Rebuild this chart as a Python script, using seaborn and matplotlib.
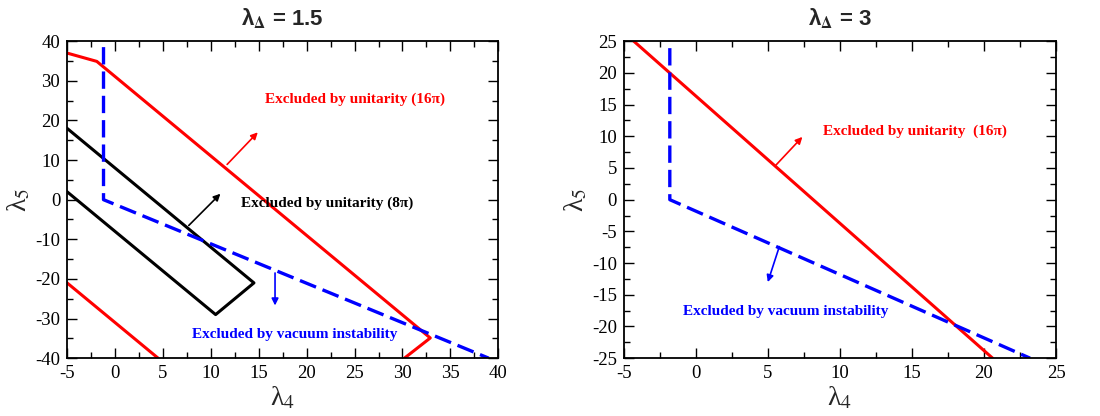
import matplotlib
matplotlib.use("Agg")
import matplotlib.pyplot as plt
import seaborn as sns
import pandas as pd
from matplotlib.ticker import MultipleLocator

# ---------------- data ----------------
# left panel (lambda_Delta = 1.5)
L_red_upper_x = [-5, -1.9, 32.9, 30.2]
L_red_upper_y = [37, 34.9, -34.9, -40]
L_red_lower_x = [-5, 4.5]
L_red_lower_y = [-21, -40]
L_black_x = [-5, 14.5, 10.5, -5]
L_black_y = [18, -21, -29, 2]
L_blue_x = [-1.2, -1.2, 39]
L_blue_y = [38.5, 0, -40]

# right panel (lambda_Delta = 3)
R_red_x = [-4.3, 20.6]
R_red_y = [25, -25]
R_blue_x = [-1.8, -1.8, 23.2]
R_blue_y = [23.9, 0, -25]

titles = ["λ$_\\mathbf{\\Delta}$ = 1.5", "λ$_\\mathbf{\\Delta}$ = 3"]
xlabel = "λ$_4$"
ylabel = "λ$_5$"

# ---------------- style ----------------
sns.set_theme(style="ticks")
plt.rcParams["font.family"] = ["Liberation Serif", "DejaVu Serif"]
plt.rcParams["mathtext.fontset"] = "stix"
plt.rcParams["axes.unicode_minus"] = False

fig = plt.figure(figsize=(11, 4.16), dpi=100)
axL = fig.add_axes([0.061, 0.139, 0.392, 0.762])
axR = fig.add_axes([0.567, 0.139, 0.393, 0.762])

RED = "#ff0000"
BLUE = "#0000ff"
LW = 2.2


def line(ax, xs, ys, color, dashed=False, lw=LW):
    df = pd.DataFrame({"x": xs, "y": ys})
    kw = {}
    if dashed:
        kw["linestyle"] = (0, (5.2, 2.1))
    sns.lineplot(data=df, x="x", y="y", sort=False, estimator=None, ax=ax,
                 color=color, linewidth=lw, **kw)


def arrow(ax, x0, y0, x1, y1, color):
    ax.annotate("", xy=(x1, y1), xytext=(x0, y0),
                arrowprops=dict(arrowstyle="-|>", color=color, lw=1.2,
                                mutation_scale=10, shrinkA=0, shrinkB=0))


def style_axes(ax, xlim, ylim, xmaj, xmin, ymaj, ymin, title):
    ax.set_xlim(*xlim)
    ax.set_ylim(*ylim)
    ax.xaxis.set_major_locator(MultipleLocator(xmaj))
    ax.xaxis.set_minor_locator(MultipleLocator(xmin))
    ax.yaxis.set_major_locator(MultipleLocator(ymaj))
    ax.yaxis.set_minor_locator(MultipleLocator(ymin))
    ax.tick_params(which="both", direction="in", top=True, right=True,
                   colors="black", labelsize=13.5, width=1.0)
    ax.tick_params(which="major", length=7, pad=5)
    ax.tick_params(which="minor", length=4)
    for s in ax.spines.values():
        s.set_linewidth(1.3)
        s.set_color("black")
    ax.set_xlabel(xlabel, fontsize=20, labelpad=2)
    ax.set_ylabel(ylabel, fontsize=20, labelpad=2)
    ax.set_title(title, fontsize=16, fontweight="bold",
                 family=["Liberation Sans", "DejaVu Sans"], pad=12)


# ---- left ----
line(axL, L_red_upper_x, L_red_upper_y, RED)
line(axL, L_red_lower_x, L_red_lower_y, RED)
line(axL, L_black_x, L_black_y, "black")
line(axL, L_blue_x, L_blue_y, BLUE, dashed=True, lw=2.4)
arrow(axL, 11.7, 8.9, 14.9, 17.0, RED)
arrow(axL, 7.7, -6.5, 11.0, 1.5, "black")
arrow(axL, 16.7, -18.5, 16.7, -26.7, BLUE)
axL.text(25.0, 25.3, "Excluded by unitarity (16π)", color=RED, fontsize=11,
         fontweight="bold", ha="center", va="center")
axL.text(13.1, -0.8, "Excluded by unitarity (8π)", color="black", fontsize=11,
         fontweight="bold", ha="left", va="center")
axL.text(18.75, -34.1, "Excluded by vacuum instability", color=BLUE, fontsize=11,
         fontweight="bold", ha="center", va="center")
style_axes(axL, (-5, 40), (-40, 40), 5, 2.5, 10, 5, titles[0])

# ---- right ----
line(axR, R_red_x, R_red_y, RED)
line(axR, R_blue_x, R_blue_y, BLUE, dashed=True, lw=2.4)
arrow(axR, 5.5, 5.3, 7.4, 9.9, RED)
arrow(axR, 5.8, -7.4, 5.0, -13.0, BLUE)
axR.text(15.2, 10.8, "Excluded by unitarity  (16π)", color=RED, fontsize=11,
         fontweight="bold", ha="center", va="center")
axR.text(6.25, -17.7, "Excluded by vacuum instability", color=BLUE, fontsize=11,
         fontweight="bold", ha="center", va="center")
style_axes(axR, (-5, 25), (-25, 25), 5, 2.5, 5, 2.5, titles[1])

for ax in (axL, axR):
    leg = ax.get_legend()
    if leg:
        leg.remove()

fig.savefig("out.png", dpi=100)
